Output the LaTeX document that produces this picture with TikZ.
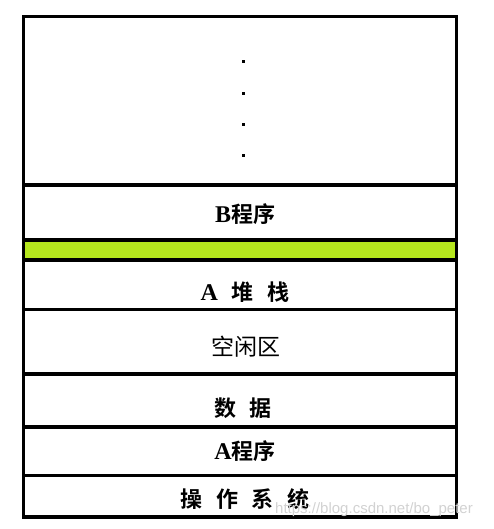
\documentclass[tikz,border=0pt]{standalone}
\usepackage{fontspec}
\setmainfont{Liberation Serif}
\newfontfamily\cjkb{Noto Sans CJK SC Bold}
\newfontfamily\cjkr{Noto Sans CJK SC}
\newfontfamily\wm{Liberation Sans}
\newfontfamily\latb{Liberation Serif Bold}
\definecolor{lime}{HTML}{B5E61D}
\tikzset{
  sep/.style={line width=3.4pt, line cap=rect},
  lbl/.style={inner sep=0pt, font=\cjkb\fontsize{22}{24}\selectfont},
  lblr/.style={inner sep=0pt, font=\cjkr\fontsize{23}{25}\selectfont},
  vdot/.style={fill=black, inner sep=0pt, minimum size=3pt},
}
\newcommand{\gp}{\hspace{0.62em}}
\newcommand{\lt}[1]{{\latb\fontsize{24}{26}\selectfont #1}}
\begin{document}
\begin{tikzpicture}[x=1pt,y=-1pt]
\useasboundingbox (0,0) rectangle (493,529);
% green band
\fill[lime] (23.5,240) rectangle (456.5,260);
% outer box
\draw[sep] (23.5,16.5) rectangle (456.5,517);
% separators
\foreach \yy in {185,240,260,309.5,374,427,475.5}
  \draw[sep] (23.5,\yy) -- (456.5,\yy);
% dots
\foreach \yy/\nm in {62/d1,94/d2,125/d3,156/d4}
  \node[vdot] (\nm) at (243,\yy) {};
% labels
\node[lbl] (bprog) at (245,214) {\lt{B}程序};
\node[lbl] (astack) at (245,292) {\lt{A}\gp 堆\gp 栈};
\node[lblr] (free) at (246,347) {空闲区};
\node[lbl] (data) at (243,408) {数\gp 据};
\node[lbl] (aprog) at (245,451) {\lt{A}程序};
\node[lbl] (os) at (245,499) {操\gp 作\gp 系\gp 统};
% watermark
\node[inner sep=0pt, text=gray!35, font=\wm\fontsize{15}{16}\selectfont, anchor=west] (wmk) at (275,510) {https://blog.csdn.net/bo\_peter};
\end{tikzpicture}
\end{document}
